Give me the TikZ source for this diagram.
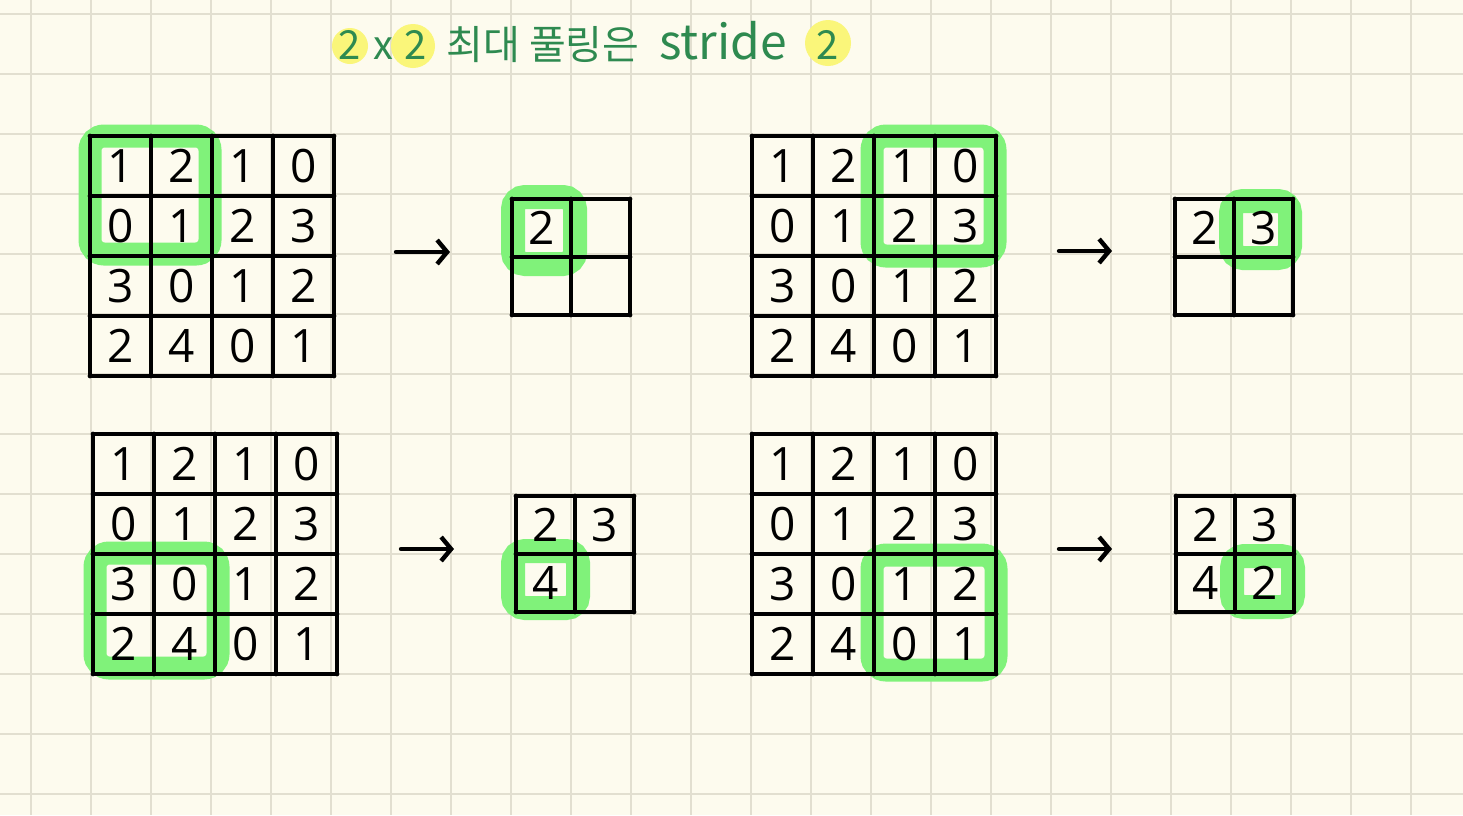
\documentclass[tikz,border=0pt]{standalone}
\usepackage{fontspec}
\setmainfont{Open Sans}
\newfontfamily\krfont{Noto Sans CJK KR}
\usetikzlibrary{arrows.meta}

\definecolor{paper}{HTML}{FDFBEE}
\definecolor{paperline}{HTML}{E2DFD0}
\definecolor{hlgreen}{HTML}{80F27A}
\definecolor{titlegreen}{HTML}{2E8A50}
\definecolor{hlyellow}{HTML}{FAF67A}

\tikzset{
    cell/.style={line width=2.4pt, line cap=round},
    ring/.style={hlgreen, line width=11.5pt, rounded corners=7pt},
    smallring/.style={hlgreen, line width=12pt, rounded corners=6pt},
    num/.style={font=\fontsize{23}{27}\selectfont},
    maparrow/.style={line width=2.2pt, line cap=round, -{Straight Barb[length=5pt,width=12pt]}},
    blob/.style={fill=hlyellow},
    titletext/.style={text=titlegreen, font=\krfont\fontsize{20}{24}\selectfont},
}

\begin{document}
\begin{tikzpicture}[x=0.5pt, y=-0.5pt]
    \useasboundingbox (0,0) rectangle (1463,815);
    % squared paper
    \fill[paper] (0,0) rectangle (1463,815);
    \foreach \gx in {31,91,...,1411}
        \draw[paperline, line width=1pt] (\gx,0) -- (\gx,815);
    \foreach \gy in {14,74,...,794}
        \draw[paperline, line width=1pt] (0,\gy) -- (1463,\gy);

    % title
    \fill[blob] (350,46) circle (9pt);
    \fill[blob] (413,46) circle (11pt);
    \fill[blob] (828,43) circle (11.5pt);
    \node[titletext] (t-size) at (383,45) {2\kern6pt x\kern6pt 2};
    \node[titletext] (t-kor) at (543,45) {최대 풀링은};
    \node[titletext, font=\krfont\fontsize{24}{28}\selectfont] (t-stride) at (723,41) {stride};
    \node[titletext] (t-two) at (828,45) {2};

    % pooling windows
    \draw[ring] (90,136) rectangle (210,254);
    \draw[ring] (872,136) rectangle (995,256);
    \draw[ring] (95,553) rectangle (218,668);
    \draw[ring] (872,555) rectangle (996,670);
    \draw[smallring] (513,197) rectangle (575,264);
    \draw[smallring] (1231,201) rectangle (1290,258);
    \draw[smallring] (513,551) rectangle (578,608);
    \draw[smallring] (1232,556) rectangle (1293,607);

    % 4x4 inputs
    \foreach \g/\gx/\gy in {A/90/136, B/752/136, C/93/434, D/752/434} {
        \begin{scope}[shift={(\gx,\gy)}]
            \foreach \i in {0,...,4} {
                \draw[cell] (\i*61,0) -- (\i*61,240);
                \draw[cell] (0,\i*60) -- (244,\i*60);
            }
            \foreach \r [count=\ri from 0] in {{1,2,1,0},{0,1,2,3},{3,0,1,2},{2,4,0,1}}
                \foreach \v [count=\ci from 0] in \r
                    \node[num] (\g-\ri-\ci) at ({(\ci+0.5)*61},{(\ri+0.5)*60}) {\v};
        \end{scope}
    }

    % 2x2 outputs
    \foreach \g/\gx/\gy in {A/512/199, B/1175/199, C/516/496, D/1176/496} {
        \begin{scope}[shift={(\gx,\gy)}]
            \foreach \i in {0,1,2} {
                \draw[cell] (\i*59,0) -- (\i*59,116);
                \draw[cell] (0,\i*58) -- (118,\i*58);
            }
        \end{scope}
    }
    \node[num] (oA-0-0) at (541.5,228) {2};
    \node[num] (oB-0-0) at (1204.5,228) {2};
    \node[num] (oB-0-1) at (1263.5,228) {3};
    \node[num] (oC-0-0) at (545.5,525) {2};
    \node[num] (oC-0-1) at (604.5,525) {3};
    \node[num] (oC-1-0) at (545.5,583) {4};
    \node[num] (oD-0-0) at (1205.5,525) {2};
    \node[num] (oD-0-1) at (1264.5,525) {3};
    \node[num] (oD-1-0) at (1205.5,583) {4};
    \node[num] (oD-1-1) at (1264.5,583) {2};

    % arrows
    \coordinate (A-out) at (396,252);
    \coordinate (A-in) at (450,252);
    \coordinate (B-out) at (1059,251);
    \coordinate (B-in) at (1112,251);
    \coordinate (C-out) at (401,549);
    \coordinate (C-in) at (454,549);
    \coordinate (D-out) at (1059,549);
    \coordinate (D-in) at (1112,549);
    \draw[maparrow] (A-out) -- (A-in);
    \draw[maparrow] (B-out) -- (B-in);
    \draw[maparrow] (C-out) -- (C-in);
    \draw[maparrow] (D-out) -- (D-in);
\end{tikzpicture}
\end{document}
